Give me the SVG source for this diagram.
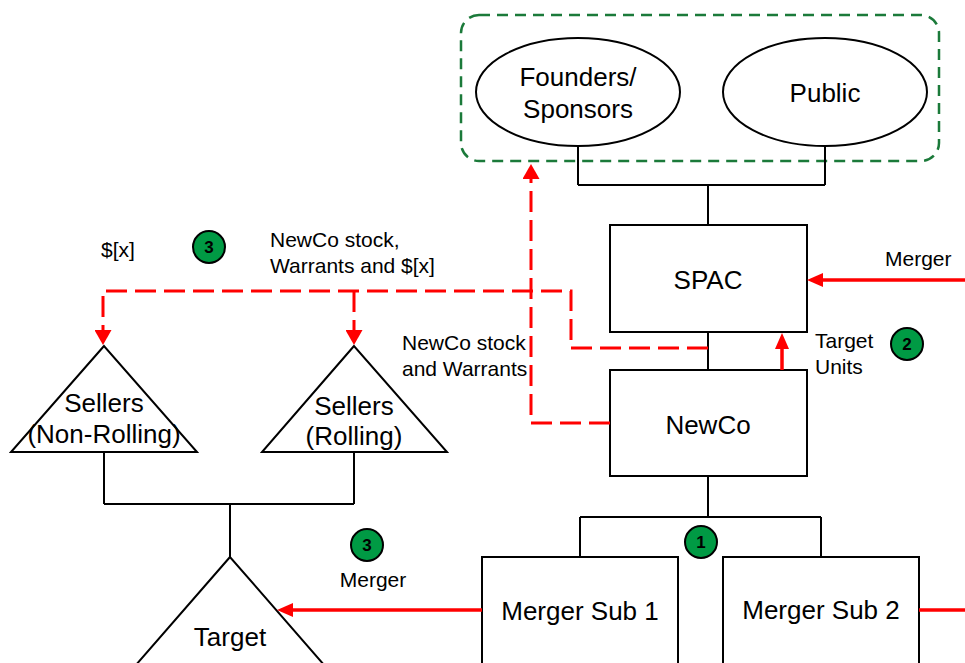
<svg xmlns="http://www.w3.org/2000/svg" width="965" height="663" viewBox="0 0 965 663">
  <style>
    .box { fill: #ffffff; stroke: #000000; stroke-width: 2; }
    .tie { fill: none; stroke: #000000; stroke-width: 2; }
    .big { font-family: "Liberation Sans", Arial, sans-serif; font-size: 26px; fill: #000000; text-anchor: middle; }
    .lbl { font-family: "Liberation Sans", Arial, sans-serif; font-size: 21px; fill: #000000; }
    .step { fill: #009a44; stroke: #000000; stroke-width: 2; }
    .stepnum { font-family: "Liberation Sans", Arial, sans-serif; font-size: 17px; font-weight: bold; fill: #000000; text-anchor: middle; }
    .flow { fill: none; stroke: #ff0000; stroke-width: 3.5; }
    .flowdash { fill: none; stroke: #ff0000; stroke-width: 3; stroke-dasharray: 21 8; }
    .group { fill: none; stroke: #1b7a3a; stroke-width: 2.5; stroke-dasharray: 11 7; }
  </style>
  <defs>
    <marker id="headSolid" viewBox="0 0 16 14" refX="0" refY="7" markerWidth="16" markerHeight="14" markerUnits="userSpaceOnUse" orient="auto">
      <path d="M0,0 L16,7 L0,14 z" fill="#ff0000"/>
    </marker>
    <marker id="headDash" viewBox="0 0 15 17" refX="0" refY="8.5" markerWidth="15" markerHeight="17" markerUnits="userSpaceOnUse" orient="auto">
      <path d="M0,0 L15,8.5 L0,17 z" fill="#ff0000"/>
    </marker>
  </defs>

  <rect width="965" height="663" fill="#ffffff"/>

  <!-- shareholder grouping -->
  <rect id="holders-group" x="461" y="15" width="478" height="146" rx="18" ry="18" class="group"/>

  <g id="founders">
    <ellipse cx="578" cy="92" rx="102" ry="54" class="box"/>
    <text class="big" x="578" y="86">Founders/</text>
    <text class="big" x="578" y="118">Sponsors</text>
  </g>

  <g id="public">
    <ellipse cx="825" cy="92" rx="102" ry="54" class="box"/>
    <text class="big" x="825" y="102">Public</text>
  </g>

  <g id="spac">
    <rect x="610" y="225" width="197" height="107" class="box"/>
    <text class="big" x="708" y="289">SPAC</text>
  </g>

  <g id="newco">
    <rect x="610" y="370" width="197" height="106" class="box"/>
    <text class="big" x="708" y="434">NewCo</text>
  </g>

  <g id="merger-sub-1">
    <rect x="482" y="557" width="196" height="130" class="box"/>
    <text class="big" x="580" y="620">Merger Sub 1</text>
  </g>

  <g id="merger-sub-2">
    <rect x="723" y="557" width="196" height="130" class="box"/>
    <text class="big" x="821" y="619">Merger Sub 2</text>
  </g>

  <g id="sellers-non-rolling">
    <polygon points="104,346 11,452 197,452" class="box"/>
    <text class="big" x="104" y="412">Sellers</text>
    <text class="big" x="104" y="443">(Non-Rolling)</text>
  </g>

  <g id="sellers-rolling">
    <polygon points="354,346 262,452 447,452" class="box"/>
    <text class="big" x="354" y="415">Sellers</text>
    <text class="big" x="354" y="445">(Rolling)</text>
  </g>

  <g id="target">
    <polygon points="230,557 88,720 372,720" class="box"/>
    <text class="big" x="230" y="646">Target</text>
  </g>

  <!-- ownership lines and transaction flows -->
  <g id="connectors">
    <path class="tie" d="M578,146 V185 M825,146 V185 M578,185 H825 M708,185 V225"/>
    <path class="tie" d="M708,332 V370"/>
    <path class="tie" d="M708,476 V517 M580,517 H821 M580,517 V557 M821,517 V557"/>
    <path class="tie" d="M104,452 V504 M354,452 V504 M104,504 H354 M230,504 V557"/>

    <path class="flow" d="M965,280 H823" marker-end="url(#headSolid)"/>
    <path class="flow" d="M782,370 V349" marker-end="url(#headSolid)"/>
    <path class="flow" d="M482,610 H293" marker-end="url(#headSolid)"/>
    <path class="flow" d="M919,610 H965"/>

    <path class="flowdash" d="M708,348 H571 V291 H103 V330" marker-end="url(#headDash)"/>
    <path class="flowdash" d="M354,291 V330" marker-end="url(#headDash)"/>
    <path class="flowdash" d="M610,423 H531 V179" marker-end="url(#headDash)"/>
  </g>

  <!-- flow labels -->
  <g id="labels">
    <text class="lbl" x="885" y="266">Merger</text>
    <text class="lbl" x="815" y="348">Target</text>
    <text class="lbl" x="815" y="374">Units</text>
    <text class="lbl" x="101" y="257">$[x]</text>
    <text class="lbl" x="270" y="247">NewCo stock,</text>
    <text class="lbl" x="270" y="273">Warrants and $[x]</text>
    <text class="lbl" x="402" y="350">NewCo stock</text>
    <text class="lbl" x="402" y="376">and Warrants</text>
    <text class="lbl" x="373" y="587" text-anchor="middle">Merger</text>
  </g>

  <!-- step markers -->
  <g id="step-1">
    <circle cx="701" cy="542" r="16" class="step"/>
    <text class="stepnum" x="701" y="548">1</text>
  </g>
  <g id="step-2">
    <circle cx="907" cy="344" r="16" class="step"/>
    <text class="stepnum" x="907" y="350">2</text>
  </g>
  <g id="step-3-sellers">
    <circle cx="209" cy="247" r="16" class="step"/>
    <text class="stepnum" x="209" y="253">3</text>
  </g>
  <g id="step-3-merger">
    <circle cx="367" cy="545" r="16" class="step"/>
    <text class="stepnum" x="367" y="551">3</text>
  </g>
</svg>
